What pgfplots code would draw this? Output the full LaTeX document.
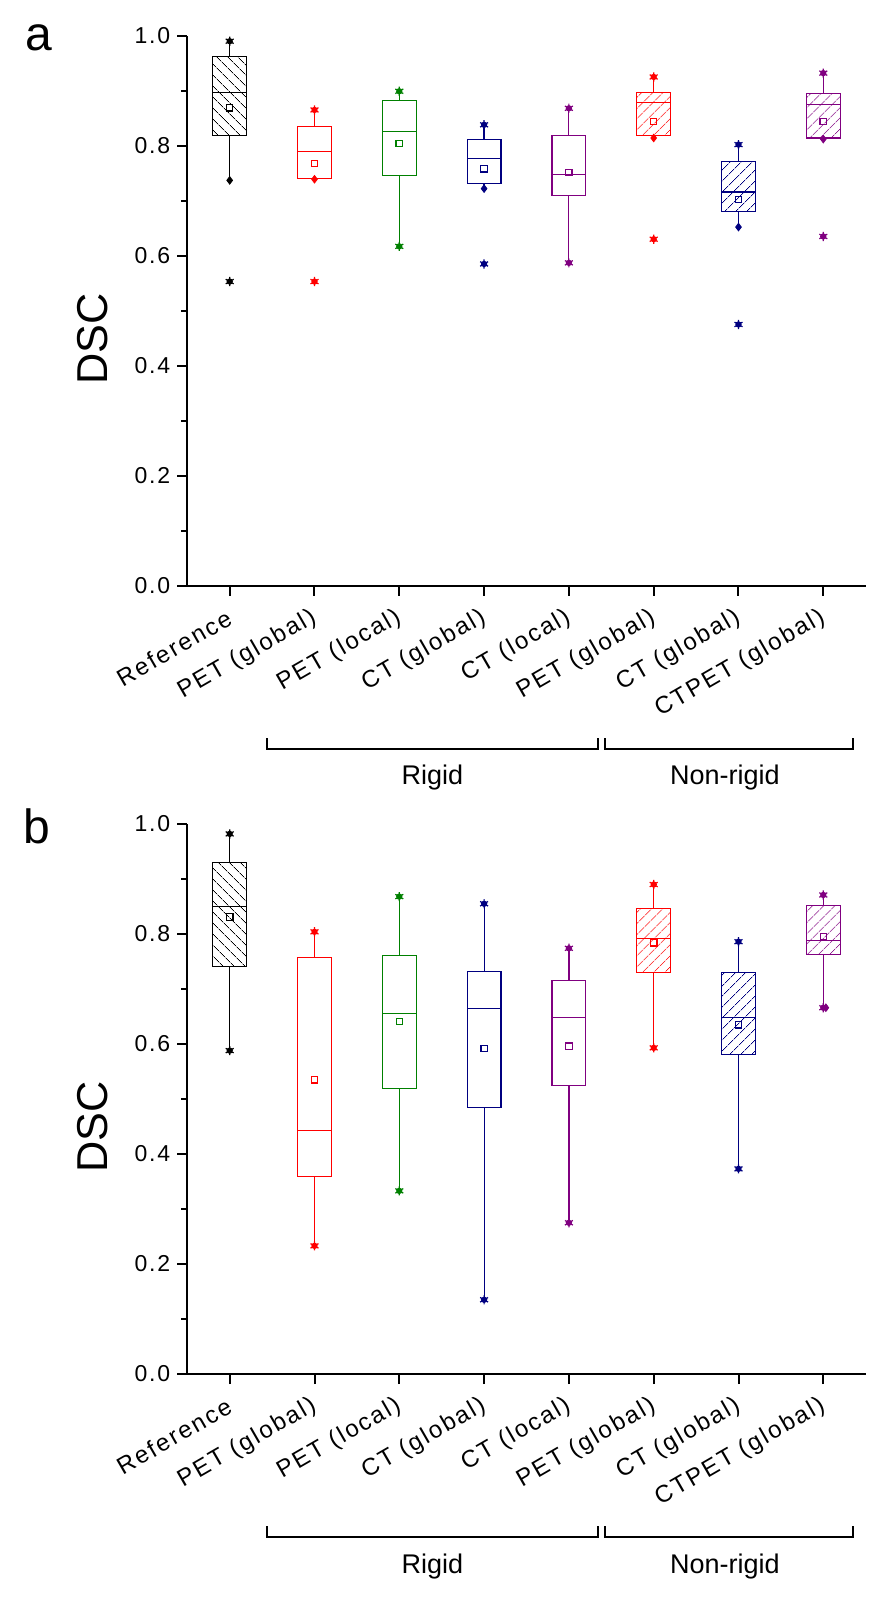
\documentclass[border=0pt]{standalone}
\usepackage{fontspec}
\setmainfont{Liberation Sans}
\newfontfamily\tickfont[LetterSpace=8]{Liberation Sans}
\newfontfamily\xtickfont[LetterSpace=9]{Liberation Sans}
\usepackage{pgfplots}
\pgfplotsset{compat=1.18}
\usepgfplotslibrary{statistics}
\usetikzlibrary{patterns.meta}

\definecolor{cred}{RGB}{255,0,0}
\definecolor{cgreen}{RGB}{0,128,0}
\definecolor{cnavy}{RGB}{0,0,128}
\definecolor{cpurple}{RGB}{128,0,128}

\pgfdeclareplotmark{ostar}{\pgfuseplotmark{asterisk}\pgfpathcircle{\pgfpointorigin}{0.55\pgfplotmarksize}\pgfusepathqfillstroke}

\tikzset{
  hatchB/.style={pattern={Lines[angle=-45,distance=4pt,line width=0.4pt]}, pattern color=#1},
  hatchF/.style={pattern={Lines[angle=45,distance=4pt,line width=0.4pt]}, pattern color=#1},
}

\pgfplotsset{
 myaxis/.style={
  scale only axis, width=339.2pt, height=275pt,
  xmin=-0.5, xmax=7.5, ymin=0, ymax=1,
  axis x line=bottom, axis y line=left,
  axis line style={-, line width=1pt},
  tick align=outside, major tick length=5pt, minor tick length=3pt,
  every tick/.style={black, line width=1pt},
  xtick={0,1,2,3,4,5,6,7},
  xticklabels={Reference, PET (global), PET (local), CT (global), CT (local), PET (global), CT (global), CTPET (global)},
  ytick={0,0.2,0.4,0.6,0.8,1.0}, minor ytick={0.1,0.3,0.5,0.7,0.9},
  /pgf/number format/assume math mode=true,
  yticklabel style={font=\tickfont\fontsize{11.5}{13}\selectfont, /pgf/number format/fixed, /pgf/number format/fixed zerofill, /pgf/number format/precision=1},
  xticklabel style={rotate=30, anchor=east, inner sep=0pt, font=\xtickfont\fontsize{12}{14}\selectfont},
  xticklabel shift=10pt,
  clip=false,
  boxplot/draw direction=y,
  boxplot/box extend=0.4, boxplot/whisker extend=0,
  boxplot/every average/.style={/tikz/mark=square, /tikz/mark size=1.6pt, /tikz/mark options={solid, line width=0.6pt}},
 },
 st/.style={only marks, mark=ostar, mark size=2.3pt, mark options={line width=0.6pt}},
 dm/.style={only marks, mark=diamond*, mark size=1.9pt},
}

% #1 pos, #2 style, #3 lw, #4 lq, #5 med, #6 uq, #7 uw, #8 avg
\newcommand{\BX}[8]{%
 \addplot[#2, line width=0.6pt, boxplot prepared={draw position=#1, lower whisker=#3, lower quartile=#4, median=#5, upper quartile=#6, upper whisker=#7, average=#8}] coordinates {};}

\begin{document}
\begin{tikzpicture}
\path[use as bounding box] (0,0) rectangle (445.5pt,-801pt);

% ---------- panel a ----------
\begin{axis}[myaxis, at={(93.65pt,-17.85pt)}, anchor=north west]
\BX{0}{black, hatchB=black}{0.737}{0.819}{0.897}{0.962}{0.990}{0.869}
\BX{1}{cred}{0.739}{0.741}{0.790}{0.835}{0.865}{0.768}
\BX{2}{cgreen}{0.617}{0.746}{0.826}{0.882}{0.899}{0.804}
\BX{3}{cnavy}{0.722}{0.732}{0.777}{0.812}{0.838}{0.758}
\BX{4}{cpurple}{0.587}{0.710}{0.747}{0.819}{0.868}{0.751}
\BX{5}{cred, hatchF=cred}{0.814}{0.819}{0.878}{0.897}{0.925}{0.844}
\BX{6}{cnavy, hatchF=cnavy}{0.652}{0.681}{0.716}{0.772}{0.802}{0.702}
\BX{7}{cpurple, hatchF=cpurple}{0.812}{0.814}{0.875}{0.895}{0.932}{0.844}
\addplot[st, black] coordinates {(0,0.990) (0,0.553)};
\addplot[dm, black] coordinates {(0,0.737)};
\addplot[st, cred] coordinates {(1,0.865) (1,0.553)};
\addplot[dm, cred] coordinates {(1,0.739)};
\addplot[st, cgreen] coordinates {(2,0.899) (2,0.617)};
\addplot[st, cnavy] coordinates {(3,0.838) (3,0.585)};
\addplot[dm, cnavy] coordinates {(3,0.722)};
\addplot[st, cpurple] coordinates {(4,0.868) (4,0.587)};
\addplot[st, cred] coordinates {(5,0.925) (5,0.630)};
\addplot[dm, cred] coordinates {(5,0.814)};
\addplot[st, cnavy] coordinates {(6,0.802) (6,0.475)};
\addplot[dm, cnavy] coordinates {(6,0.652)};
\addplot[st, cpurple] coordinates {(7,0.932) (7,0.635)};
\addplot[dm, cpurple] coordinates {(7,0.812)};
\draw[line width=1pt] (axis cs:0.434,-0.277) -- (axis cs:0.434,-0.297) -- (axis cs:4.346,-0.297) -- (axis cs:4.346,-0.277);
\draw[line width=1pt] (axis cs:4.424,-0.277) -- (axis cs:4.424,-0.297) -- (axis cs:7.356,-0.297) -- (axis cs:7.356,-0.277);
\node[font=\fontsize{13.5}{15}\selectfont, anchor=base] at (axis cs:2.39,-0.362) {Rigid};
\node[font=\fontsize{13.5}{15}\selectfont, anchor=base] at (axis cs:5.84,-0.362) {Non-rigid};
\node[rotate=90, font=\fontsize{21.6}{24}\selectfont] at (axis description cs:-0.1397,0.449) {DSC};
\node[anchor=base west, font=\fontsize{24}{28}\selectfont] at (axis description cs:-0.2495,0.974) {a};
\end{axis}

% ---------- panel b ----------
\begin{axis}[myaxis, at={(93.65pt,-412pt)}, anchor=north west]
\BX{0}{black, hatchB=black}{0.588}{0.741}{0.850}{0.930}{0.982}{0.831}
\BX{1}{cred}{0.233}{0.359}{0.443}{0.758}{0.804}{0.535}
\BX{2}{cgreen}{0.333}{0.519}{0.656}{0.761}{0.868}{0.641}
\BX{3}{cnavy}{0.135}{0.485}{0.665}{0.732}{0.855}{0.592}
\BX{4}{cpurple}{0.275}{0.525}{0.648}{0.716}{0.774}{0.596}
\BX{5}{cred, hatchF=cred}{0.593}{0.730}{0.792}{0.847}{0.890}{0.784}
\BX{6}{cnavy, hatchF=cnavy}{0.373}{0.581}{0.648}{0.730}{0.786}{0.635}
\BX{7}{cpurple, hatchF=cpurple}{0.666}{0.763}{0.788}{0.852}{0.871}{0.795}
\addplot[st, black] coordinates {(0,0.982) (0,0.588)};
\addplot[st, cred] coordinates {(1,0.804) (1,0.233)};
\addplot[st, cgreen] coordinates {(2,0.868) (2,0.333)};
\addplot[st, cnavy] coordinates {(3,0.855) (3,0.135)};
\addplot[st, cpurple] coordinates {(4,0.774) (4,0.275)};
\addplot[st, cred] coordinates {(5,0.890) (5,0.593)};
\addplot[st, cnavy] coordinates {(6,0.786) (6,0.373)};
\addplot[st, cpurple] coordinates {(7,0.871) (7,0.666)};
\addplot[dm, cpurple] coordinates {(7.03,0.666)};
\draw[line width=1pt] (axis cs:0.434,-0.277) -- (axis cs:0.434,-0.297) -- (axis cs:4.346,-0.297) -- (axis cs:4.346,-0.277);
\draw[line width=1pt] (axis cs:4.424,-0.277) -- (axis cs:4.424,-0.297) -- (axis cs:7.356,-0.297) -- (axis cs:7.356,-0.277);
\node[font=\fontsize{13.5}{15}\selectfont, anchor=base] at (axis cs:2.39,-0.362) {Rigid};
\node[font=\fontsize{13.5}{15}\selectfont, anchor=base] at (axis cs:5.84,-0.362) {Non-rigid};
\node[rotate=90, font=\fontsize{21.6}{24}\selectfont] at (axis description cs:-0.1397,0.449) {DSC};
\node[anchor=base west, font=\fontsize{24}{28}\selectfont] at (axis description cs:-0.2516,0.9647) {b};
\end{axis}
\end{tikzpicture}
\end{document}
